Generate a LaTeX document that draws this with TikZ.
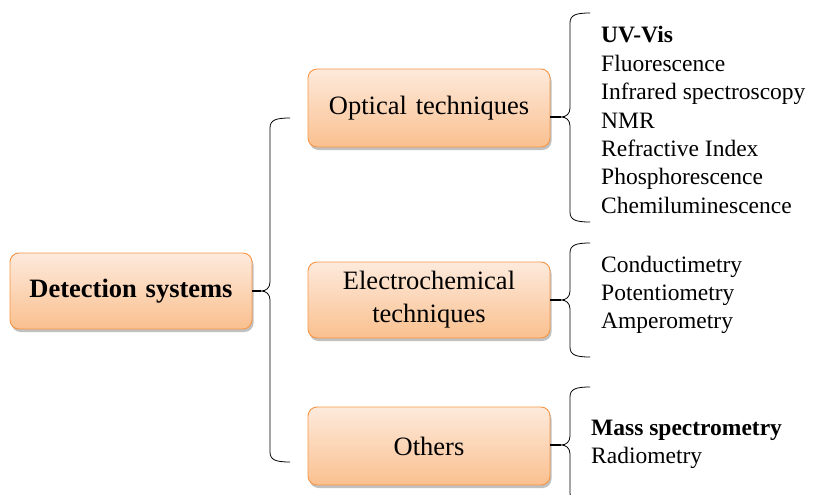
\documentclass[tikz,border=0pt]{standalone}
\usepackage{fontspec}
\setmainfont{Liberation Serif}
\usetikzlibrary{shadows}
\definecolor{boxedge}{RGB}{247,150,70}
\definecolor{boxtop}{RGB}{253,234,220}
\definecolor{boxbot}{RGB}{250,192,143}
\tikzset{
  box/.style={draw=boxedge, line width=0.9pt, rounded corners=9pt,
    top color=boxtop, bottom color=boxbot, minimum width=242pt,
    text width=236pt, align=center, inner sep=0pt,
    font=\fontsize{26.5}{33}\selectfont,
    drop shadow={shadow xshift=1.5pt, shadow yshift=-3pt, opacity=0.35, fill=black!70}},
  item/.style={anchor=base west, inner sep=0pt, font=\fontsize{23.5}{28}\selectfont},
  bracepath/.style={line width=0.8pt, draw=black},
  conn/.style={line width=1.3pt, draw=black}
}
\newcommand\cbrace[4]{%
  \draw[bracepath] ({#1+20},#2) .. controls ({#1+6},#2) and (#1,{#2+2}) .. (#1,{#2+10})
    -- (#1,{#3-9}) .. controls (#1,{#3-3}) and ({#1-4},#3) .. ({#1-9},#3)
    .. controls ({#1-4},#3) and (#1,{#3+3}) .. (#1,{#3+9})
    -- (#1,{#4-10}) .. controls (#1,{#4-2}) and ({#1+6},#4) .. ({#1+20},#4);}
\begin{document}
\begin{tikzpicture}[x=1pt,y=-1pt]
\useasboundingbox (0,0) rectangle (814,495);
\clip (0,0) rectangle (814,495);
% boxes
\node[box, minimum height=76pt] (ds) at (131,291) {\bfseries Detection systems};
\node[box, minimum height=78pt] (opt) at (429,108) {Optical techniques};
\node[box, minimum height=76pt] (ele) at (429,300) {Electrochemical\\techniques};
\node[box, minimum height=78pt] (oth) at (429,446) {Others};
% braces
\cbrace{270}{118}{291}{462}
\cbrace{570}{13}{117}{222}
\cbrace{570}{243}{300}{357}
\cbrace{570}{387}{445}{503}
\coordinate (t0) at (261,291);
\coordinate (t1) at (561,117);
\coordinate (t2) at (561,300);
\coordinate (t3) at (561,445);
% connectors
\draw[conn] (ds.east) -- (t0);
\draw[conn] (t1 -| opt.east) -- (t1);
\draw[conn] (ele.east) -- (t2);
\draw[conn] (t3 -| oth.east) -- (t3);
% optical list
\node[item] (o1) at (601,43) {\bfseries UV-Vis};
\node[item] (o2) at (601,71.3) {Fluorescence};
\node[item] (o3) at (601,99.6) {Infrared spectroscopy};
\node[item] (o4) at (601,128) {NMR};
\node[item] (o5) at (601,156.3) {Refractive Index};
\node[item] (o6) at (601,184.6) {Phosphorescence};
\node[item] (o7) at (601,213) {Chemiluminescence};
% electrochemical list
\node[item] (e1) at (601,272) {Conductimetry};
\node[item] (e2) at (601,300) {Potentiometry};
\node[item] (e3) at (601,328) {Amperometry};
% others list
\node[item] (m1) at (591,435) {\bfseries Mass spectrometry};
\node[item] (m2) at (591,463) {Radiometry};
\end{tikzpicture}
\end{document}
